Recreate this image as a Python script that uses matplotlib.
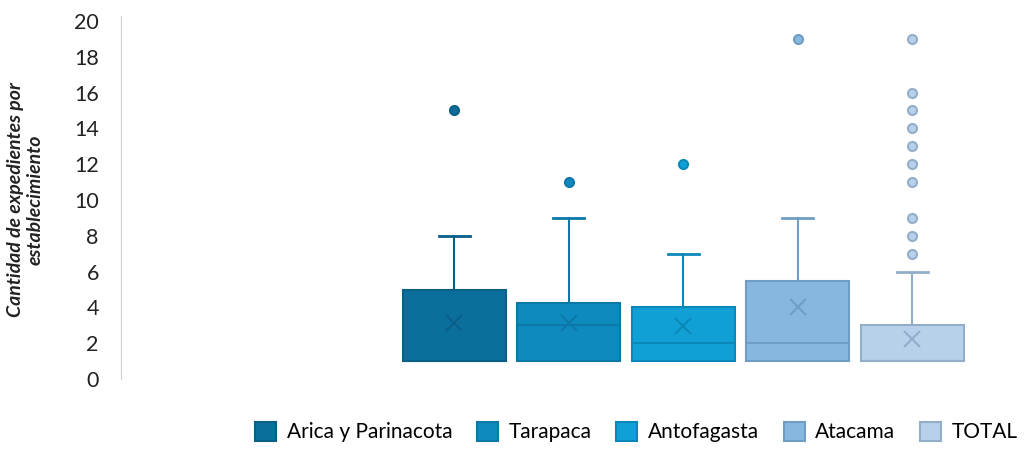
import matplotlib
matplotlib.use("Agg")
import matplotlib.pyplot as plt
from matplotlib.patches import Patch

plt.rcParams['font.family'] = ['Lato', 'DejaVu Sans']

# Datos
regiones = ["Arica y Parinacota", "Tarapaca", "Antofagasta", "Atacama", "TOTAL"]
minimos = [1, 1, 1, 1, 1]
q1 = [1, 1, 1, 1, 1]
medianas = [1, 3, 2, 2, 1]
q3 = [5, 4.25, 4, 5.5, 3]
maximos = [8, 9, 7, 9, 6]
medias = [3.15, 3.15, 2.95, 4.0, 2.25]
atipicos = [[15], [11], [12], [19], [7, 8, 9, 11, 12, 13, 14, 15, 16, 19]]

colores = ["#0b6f9c", "#0f8abf", "#11a0d6", "#86b8df", "#b6d1e9"]
bordes = ["#0a5f87", "#0c78a8", "#0b88b9", "#6f9dc3", "#93aec8"]

fig = plt.figure(figsize=(10.24, 4.5), dpi=100)
ax = fig.add_axes([121 / 1024, 1 - 379 / 450, 900 / 1024, 358 / 450])

for i, reg in enumerate(regiones):
    stats = [{
        "whislo": minimos[i], "q1": q1[i], "med": medianas[i], "q3": q3[i],
        "whishi": maximos[i], "mean": medias[i], "fliers": atipicos[i], "label": reg,
    }]
    res = ax.bxp(stats, positions=[i], widths=0.9, patch_artist=True, showmeans=True,
                 boxprops=dict(facecolor=colores[i], edgecolor=bordes[i], linewidth=1.5),
                 medianprops=dict(color=bordes[i], linewidth=1.5),
                 whiskerprops=dict(color=bordes[i], linewidth=1.5),
                 capprops=dict(color=bordes[i], linewidth=2),
                 capwidths=0.27,
                 meanprops=dict(marker="x", markeredgecolor=bordes[i], markersize=12,
                                markeredgewidth=1.5),
                 flierprops=dict(marker="o", markerfacecolor=colores[i],
                                 markeredgecolor=bordes[i], markersize=6.5,
                                 markeredgewidth=1.5))
    # sin bigote inferior (mínimo = Q1)
    res["caps"][0].set_visible(False)
    res["whiskers"][0].set_visible(False)

ax.set_xlim(-2.91, 4.95)
ax.set_ylim(0, 20)
ax.set_yticks(range(0, 21, 2))
ax.tick_params(axis="y", length=0, labelsize=15.5, pad=16, labelcolor="#222222")
ax.set_xticks([])
for s in ["top", "right", "bottom"]:
    ax.spines[s].set_visible(False)
ax.spines["left"].set_color("#d0d0d0")
ax.spines["left"].set_bounds(0, 20.3)

ax.set_ylabel("Cantidad de expedientes por\nestablecimiento", fontsize=14,
              fontweight="bold", fontstyle="italic", labelpad=22, color="#222222")

handles = [Patch(facecolor=colores[i], edgecolor=bordes[i], linewidth=1.5)
           for i in range(len(regiones))]
fig.legend(handles, regiones, loc="lower right", bbox_to_anchor=(1.012, -0.025),
           ncol=5, frameon=False, fontsize=15, handlelength=1.0, handleheight=1.0,
           handletextpad=0.5, columnspacing=1.2)

fig.savefig("out.png", dpi=100)
